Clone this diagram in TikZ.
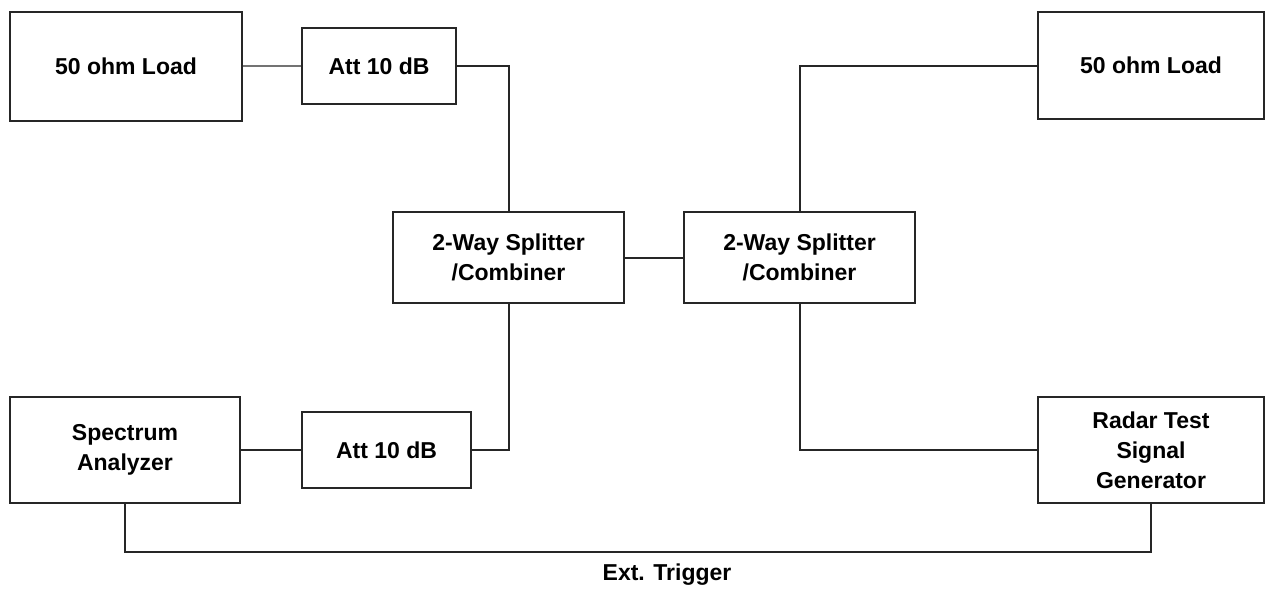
\documentclass[tikz,border=0pt]{standalone}
\usepackage{fontspec}
\setmainfont{Liberation Sans}
\begin{document}
\begin{tikzpicture}[x=1pt,y=-1pt,
  blk/.style={draw=black!85,line width=2pt,fill=white,inner sep=0pt,
    align=center,font=\fontsize{23}{30}\selectfont\bfseries},
  wire/.style={draw=black!85,line width=2pt},
  lbl/.style={font=\fontsize{23}{30}\selectfont\bfseries,inner sep=0pt}]
\useasboundingbox[fill=white] (0,0) rectangle (1266,589);
% equipment blocks
\node[blk,minimum width=232pt,minimum height=109pt] (loadL) at (126,66) {50 ohm Load};
\node[blk,minimum width=154pt,minimum height=76pt] (attT) at (379,66) {Att 10 dB};
\node[blk,minimum width=231pt,minimum height=91pt] (splL) at (508.5,257.5) {2-Way Splitter\\/Combiner};
\node[blk,minimum width=231pt,minimum height=91pt] (splR) at (799.5,257.5) {2-Way Splitter\\/Combiner};
\node[blk,minimum width=226pt,minimum height=107pt] (loadR) at (1151,65.5) {50 ohm Load};
\node[blk,minimum width=230pt,minimum height=106pt] (spec) at (125,450) {Spectrum\\Analyzer};
\node[blk,minimum width=169pt,minimum height=76pt] (attB) at (386.5,450) {Att 10 dB};
\node[blk,minimum width=226pt,minimum height=106pt] (radar) at (1151,450) {Radar Test\\Signal\\Generator};
% RF connections
\draw[wire,draw=black!55] (loadL.east) -- (attT.west);
\draw[wire] (attT.east) -| (splL.north);
\draw[wire] (splL.south) |- (attB.east);
\draw[wire] (attB.west) -- (spec.east);
\draw[wire] (splL.east) -- (splR.west);
\draw[wire] (splR.north) |- (loadR.west);
\draw[wire] (splR.south) |- (radar.west);
% trigger line
\coordinate (bus) at (0,551.5);
\draw[wire] (spec.south) -- (spec.south |- bus) -| (radar.south);
\node[lbl] (trig) at (667,575) {Ext. Trigger};
\end{tikzpicture}
\end{document}
